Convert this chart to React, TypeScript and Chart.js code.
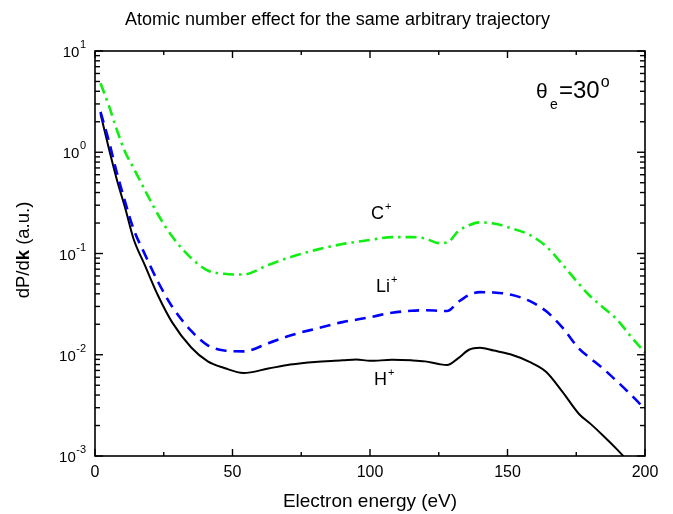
import React, { useEffect, useRef } from "react";
import { Chart, registerables } from "chart.js";

Chart.register(...registerables);

// Electron energy grid (eV)
const energies = [2, 5, 8, 11, 14, 18, 23, 28, 35, 41, 47, 54, 63, 71, 80, 90, 95, 100, 108, 115, 120, 125, 128, 132, 136, 140, 145, 151, 158, 164, 170, 176, 180, 185, 190, 195, 200];

// H+ (solid black)
const hValues = [2.4, 1.1, 0.53, 0.28, 0.14, 0.078, 0.038, 0.021, 0.0118, 0.0086, 0.0074, 0.0066, 0.0073, 0.008, 0.0085, 0.0088, 0.009, 0.0087, 0.0089, 0.0088, 0.0086, 0.0081, 0.0079, 0.0092, 0.0112, 0.0117, 0.011, 0.0101, 0.0085, 0.0068, 0.0043, 0.0026, 0.0021, 0.00157, 0.00115, 0.00082, null];

// Li+ (dashed blue)
const liValues = [2.5, 1.3, 0.62, 0.32, 0.175, 0.1, 0.052, 0.03, 0.0172, 0.0124, 0.011, 0.0108, 0.013, 0.0155, 0.018, 0.021, 0.0222, 0.0235, 0.026, 0.0272, 0.0275, 0.0272, 0.027, 0.033, 0.039, 0.0415, 0.0412, 0.0393, 0.034, 0.027, 0.0185, 0.0115, 0.0093, 0.0072, 0.0054, 0.004, 0.0029];

// C+ (dash-dot green)
const cValues = [4.8, 2.9, 1.65, 1.0, 0.7, 0.43, 0.24, 0.148, 0.09, 0.068, 0.063, 0.062, 0.077, 0.092, 0.108, 0.124, 0.13, 0.136, 0.145, 0.145, 0.141, 0.127, 0.128, 0.165, 0.19, 0.203, 0.198, 0.179, 0.153, 0.118, 0.078, 0.05, 0.038, 0.029, 0.022, 0.015, 0.0105];

const xMajorTicks = [0, 50, 100, 150, 200];
const xMinorTicks = [25, 75, 125, 175];
const yExponents = [-3, -2, -1, 0, 1];

const titleText = "Atomic number effect for the same arbitrary trajectory";
const xTitle = "Electron energy (eV)";

const FONT = "'Liberation Sans', Arial, Helvetica, sans-serif";

const overlayPlugin = {
  id: "overlay",
  afterDraw(chart: any) {
    const { ctx, chartArea: a, scales } = chart;
    const xs = scales.x;
    const ys = scales.y;
    ctx.save();
    ctx.strokeStyle = "#000";
    ctx.fillStyle = "#000";
    ctx.textBaseline = "alphabetic";

    // frame
    ctx.lineWidth = 1.6;
    ctx.strokeRect(a.left, a.top, a.right - a.left, a.bottom - a.top);

    ctx.lineWidth = 1.4;
    const tick = (x1: number, y1: number, x2: number, y2: number) => {
      ctx.beginPath();
      ctx.moveTo(x1, y1);
      ctx.lineTo(x2, y2);
      ctx.stroke();
    };
    xMajorTicks.forEach((v) => {
      const px = xs.getPixelForValue(v);
      tick(px, a.bottom, px, a.bottom - 7);
      tick(px, a.top, px, a.top + 7);
    });
    xMinorTicks.forEach((v) => {
      const px = xs.getPixelForValue(v);
      tick(px, a.bottom, px, a.bottom - 4);
      tick(px, a.top, px, a.top + 4);
    });
    yExponents.forEach((e) => {
      for (let m = 1; m <= 9; m++) {
        if (e === 1 && m > 1) break;
        const v = m * Math.pow(10, e);
        const py = ys.getPixelForValue(v);
        const len = m === 1 ? 8 : 5;
        tick(a.left, py, a.left + len, py);
        tick(a.right, py, a.right - len, py);
      }
    });

    // x tick labels
    ctx.font = `16px ${FONT}`;
    ctx.textAlign = "center";
    xMajorTicks.forEach((v) => {
      ctx.fillText(String(v), xs.getPixelForValue(v), a.bottom + 21);
    });

    // y tick labels 10^e
    yExponents.forEach((e) => {
      const py = ys.getPixelForValue(Math.pow(10, e));
      ctx.font = `11px ${FONT}`;
      const ex = String(e);
      const ew = ctx.measureText(ex).width;
      const right = 86;
      ctx.textAlign = "left";
      ctx.fillText(ex, right - ew, py - 3);
      ctx.font = `15px ${FONT}`;
      ctx.textAlign = "right";
      ctx.fillText("10", right - ew - 0.5, py + 6);
    });

    // chart title
    ctx.font = `18px ${FONT}`;
    ctx.textAlign = "center";
    ctx.fillText(titleText, 337.5, 25);

    // x axis title
    ctx.font = `19px ${FONT}`;
    ctx.fillText(xTitle, (a.left + a.right) / 2, 507);

    // y axis title: dP/d k(bold) (a.u.)
    ctx.save();
    ctx.translate(29, 250);
    ctx.rotate(-Math.PI / 2);
    const p1 = "dP/d";
    const p2 = "k";
    const p3 = " (a.u.)";
    const fs = 18.5;
    ctx.font = `${fs}px ${FONT}`;
    const w1 = ctx.measureText(p1).width;
    const w3 = ctx.measureText(p3).width;
    ctx.font = `bold ${fs}px ${FONT}`;
    const w2 = ctx.measureText(p2).width;
    const total = w1 + w2 + w3;
    let cx = -total / 2;
    ctx.textAlign = "left";
    ctx.font = `${fs}px ${FONT}`;
    ctx.fillText(p1, cx, 0);
    cx += w1;
    ctx.font = `bold ${fs}px ${FONT}`;
    ctx.fillText(p2, cx, 0);
    cx += w2;
    ctx.font = `${fs}px ${FONT}`;
    ctx.fillText(p3, cx, 0);
    ctx.restore();

    // series labels with superscript +
    const ionLabel = (base: string, x: number, y: number) => {
      ctx.textAlign = "left";
      ctx.font = `18px ${FONT}`;
      ctx.fillText(base, x, y);
      const w = ctx.measureText(base).width;
      ctx.font = `11px ${FONT}`;
      ctx.fillText("+", x + w + 1, y - 9);
    };
    ionLabel("C", 371, 219);
    ionLabel("Li", 376, 292);
    ionLabel("H", 374, 385);

    // theta_e = 30°
    ctx.textAlign = "left";
    ctx.font = `21px ${FONT}`;
    ctx.fillText("\u03b8", 536, 98);
    ctx.font = `14px ${FONT}`;
    ctx.fillText("e", 550, 109);
    ctx.font = `24px ${FONT}`;
    ctx.fillText("=30", 559, 98);
    const w30 = ctx.measureText("=30").width;
    ctx.font = `16px ${FONT}`;
    ctx.fillText("o", 559 + w30 + 1, 87);

    ctx.restore();
  },
};

export default function App() {
  const canvasRef = useRef<HTMLCanvasElement | null>(null);

  useEffect(() => {
    document.body.style.margin = "0";
    const canvas = canvasRef.current;
    if (!canvas) return;
    const mk = (vals: (number | null)[]) => energies.map((e, i) => ({ x: e, y: vals[i] }));
    const chart = new Chart(canvas, {
      type: "line",
      data: {
        datasets: [
          {
            label: "C+",
            data: mk(cValues) as any,
            borderColor: "#11ee11",
            borderWidth: 2.6,
            borderDash: [11, 5, 2.5, 5],
            pointRadius: 0,
            cubicInterpolationMode: "monotone",
            fill: false,
          },
          {
            label: "Li+",
            data: mk(liValues) as any,
            borderColor: "#0000ff",
            borderWidth: 2.6,
            borderDash: [11, 7],
            pointRadius: 0,
            cubicInterpolationMode: "monotone",
            fill: false,
          },
          {
            label: "H+",
            data: mk(hValues) as any,
            borderColor: "#000000",
            borderWidth: 2,
            pointRadius: 0,
            cubicInterpolationMode: "monotone",
            fill: false,
          },
        ],
      },
      options: {
        responsive: false,
        animation: false,
        devicePixelRatio: 1,
        layout: { padding: { left: 95, right: 28, top: 51, bottom: 58 } },
        plugins: { legend: { display: false }, tooltip: { enabled: false }, title: { display: false } },
        scales: {
          x: { type: "linear", min: 0, max: 200, display: false },
          y: { type: "logarithmic", min: 0.001, max: 10, display: false },
        },
      },
      plugins: [overlayPlugin],
    });
    return () => chart.destroy();
  }, []);

  return (
    <div style={{ width: 673, height: 514, background: "#fff" }}>
      <canvas ref={canvasRef} width={673} height={514} style={{ display: "block" }} />
    </div>
  );
}
